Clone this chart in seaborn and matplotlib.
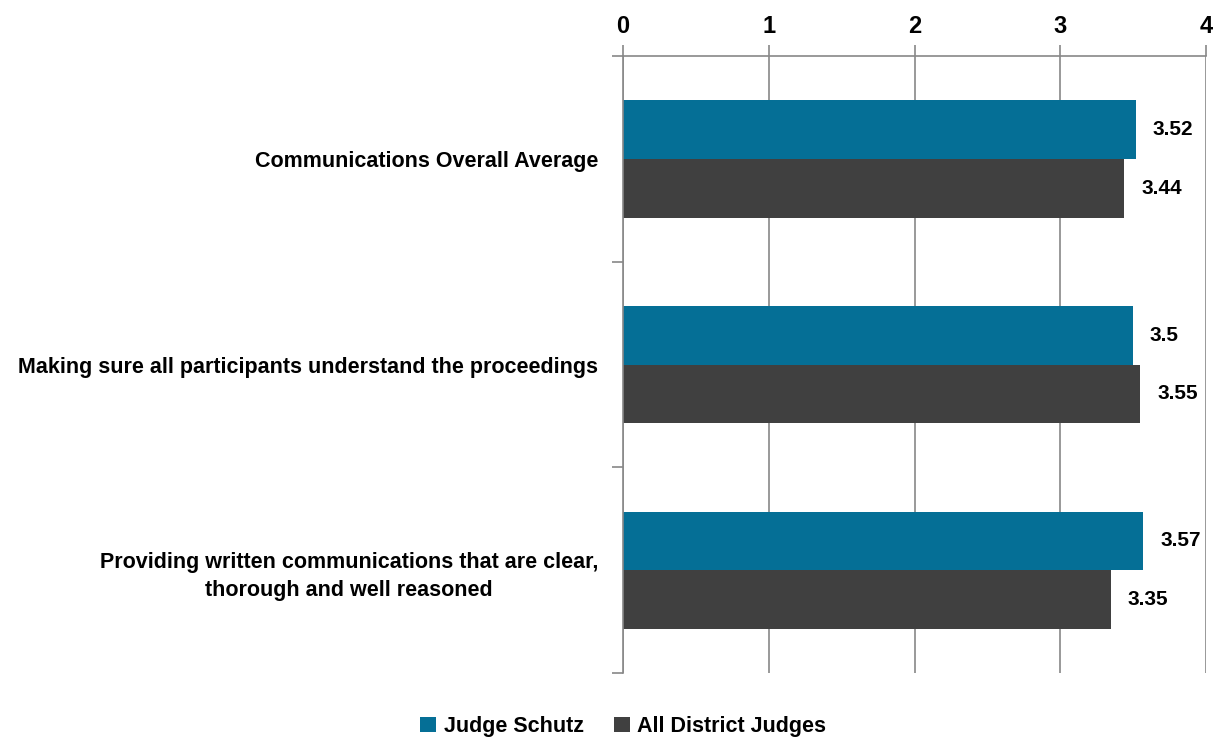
import pandas as pd
import matplotlib.pyplot as plt
import seaborn as sns

categories = [
    "Communications Overall Average",
    "Making sure all participants understand the proceedings",
    "Providing written communications that are clear,\nthorough and well reasoned",
]
series_names = ["Judge Schutz", "All District Judges"]
judge_schutz = [3.52, 3.5, 3.57]
all_district = [3.44, 3.55, 3.35]
colors = ["#056F96", "#404040"]

df = pd.DataFrame({
    "category": categories * 2,
    "series": [series_names[0]] * 3 + [series_names[1]] * 3,
    "value": judge_schutz + all_district,
})

sns.set_theme(style="white")
plt.rcParams["font.family"] = ["Liberation Sans Narrow", "Liberation Sans", "DejaVu Sans"]
plt.rcParams["font.weight"] = "bold"
plt.rcParams["text.color"] = "black"
plt.rcParams["xtick.color"] = "black"
plt.rcParams["ytick.color"] = "black"

fig = plt.figure(figsize=(12.17, 7.38), dpi=100)
ax = fig.add_axes([0.512, 0.088, 0.479, 0.836])

sns.barplot(data=df, y="category", x="value", hue="series", orient="h",
            palette=colors, width=0.57, saturation=1, linewidth=0,
            ax=ax, legend=True)

# value labels at the end of each bar
for cont, vals in zip(ax.containers, [judge_schutz, all_district]):
    ax.bar_label(cont, labels=[f"{v:g}" for v in vals], padding=12,
                 fontsize=15, fontweight="bold", color="black")

ax.set_xlim(0, 4)
ax.set_ylim(2.5, -0.5)
ax.set_xlabel("")
ax.set_ylabel("")
ax.xaxis.tick_top()
ax.set_xticks([0, 1, 2, 3, 4])
ax.tick_params(axis="x", which="major", top=True, bottom=False, length=8,
               width=1.2, color="#888888", labelcolor="black", labelsize=17,
               pad=5, direction="out")
for lbl in ax.get_xticklabels():
    lbl.set_fontweight("bold")

ax.tick_params(axis="y", which="major", left=False, labelsize=15.5,
               labelcolor="black", pad=12)
for lbl in ax.get_yticklabels():
    lbl.set_fontweight("bold")
    lbl.set_multialignment("center")
    lbl.set_linespacing(1.45)
# tick marks between categories on the left spine
ax.set_yticks([-0.5, 0.5, 1.5, 2.5], minor=True)
ax.tick_params(axis="y", which="minor", left=True, length=8, width=1.2,
               color="#888888", direction="out")

ax.grid(axis="x", color="#888888", linewidth=1.2)
ax.grid(axis="y", visible=False)
ax.set_axisbelow(True)
for side in ["bottom", "right"]:
    ax.spines[side].set_visible(False)
for side in ["top", "left"]:
    ax.spines[side].set_color("#888888")
    ax.spines[side].set_linewidth(1.2)

leg = ax.legend(loc="lower center", bbox_to_anchor=(0.512, -0.025),
                bbox_transform=fig.transFigure, ncol=2, frameon=False,
                fontsize=15.5, handlelength=0.75, handleheight=0.75,
                handletextpad=0.35, columnspacing=1.4)
for t in leg.get_texts():
    t.set_fontweight("bold")
    t.set_color("black")

fig.savefig("out.png", dpi=100)
